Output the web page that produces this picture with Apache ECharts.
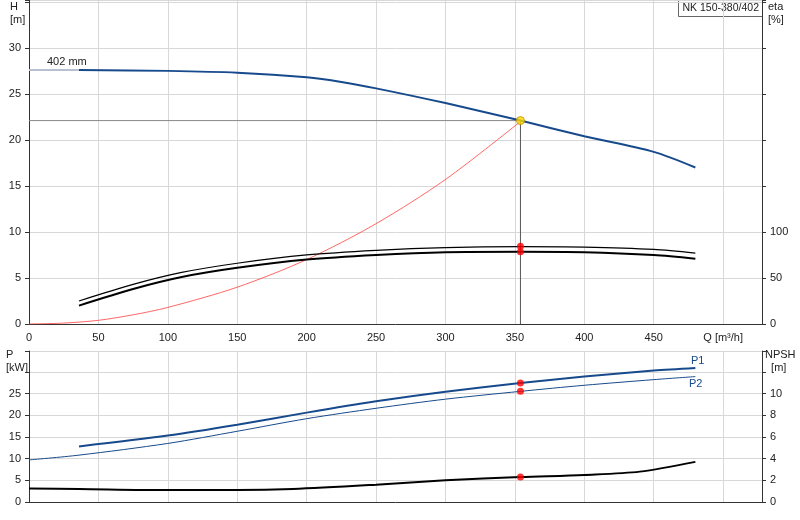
<!DOCTYPE html>
<html><head><meta charset="utf-8">
<script src="https://cdn.jsdelivr.net/npm/echarts@6/dist/echarts.min.js"></script>
<style>html,body{margin:0;background:#fff}#c{width:800px;height:520px}</style>
</head><body><div id="c"></div>
<script>
const hHead = [[0,27.6],[36,27.6]];
const hCurve = [[36,27.6],[100,27.5],[150,27.3],[200,26.8],[225,26.3],[250,25.6],[300,24.0],[354,22.1],[400,20.4],[450,18.7],[480,17.0]];
const etaUpper = [[36,25],[75,43],[110,56],[150,66],[200,75],[250,80],[300,83],[354,84],[400,83.5],[450,81],[480,77]];
const etaLower = [[36,20],[75,38],[110,51],[150,61],[200,70],[250,75],[300,78],[354,78.5],[400,78],[450,75],[480,71]];
const system = [[0,0],[25,0.1],[50,0.4],[75,1.0],[100,1.8],[150,4.0],[200,7.0],[250,10.9],[300,15.7],[354,22.0]];
const p1 = [[36,12.8],[100,15.3],[150,17.8],[200,20.6],[250,23.2],[300,25.4],[354,27.4],[400,28.9],[450,30.3],[480,30.9]];
const p2 = [[0,9.7],[36,10.8],[100,13.5],[150,16.3],[200,19.2],[250,21.6],[300,23.7],[354,25.5],[400,26.9],[450,28.2],[480,28.9]];
const npsh = [[0,1.25],[36,1.2],[100,1.1],[150,1.1],[190,1.2],[250,1.6],[300,2.0],[354,2.3],[400,2.5],[440,2.8],[480,3.7]];
const duty = {q:354, h:22.1, etaU:84.5, etaL:78.5, p1:27.4, p2:25.5, npsh:2.3};
const xTicks = [0,50,100,150,200,250,300,350,400,450];

const grey = '#d8d8d8', ax = {lineStyle:{color:'#333'}};
const lbl = {color:'#222', fontSize:11, fontFamily:'Liberation Sans'};
const line = (x,y,data,color,w,extra) => Object.assign({type:'line',xAxisIndex:x,yAxisIndex:y,data,symbol:'none',smooth:0.3,lineStyle:{color,width:w},silent:true},extra||{});
const dot = (x,y,val) => ({type:'scatter',xAxisIndex:x,yAxisIndex:y,data:[[duty.q,val]],symbolSize:7,itemStyle:{color:'#f00'},z:5});

const chart = echarts.init(document.getElementById('c'));
chart.setOption({
  animation:false,
  grid:[{left:29,right:38,top:0,height:324},{left:29,right:38,top:351,height:151}],
  xAxis:[
    {gridIndex:0,type:'value',min:0,max:528,interval:50,axisLine:ax,axisTick:{show:false},
     splitLine:{lineStyle:{color:grey}},
     axisLabel:Object.assign({},lbl,{formatter:v=>v===500?'Q [m³/h]':(xTicks.includes(v)?String(v):''),showMaxLabel:false})},
    {gridIndex:1,type:'value',min:0,max:528,interval:50,axisLine:ax,axisTick:{show:false},axisLabel:{show:false},
     splitLine:{lineStyle:{color:grey}}}
  ],
  yAxis:[
    {gridIndex:0,type:'value',min:0,max:35.2,interval:5,axisLine:{show:true,lineStyle:{color:'#333'}},axisTick:{show:true,inside:false,length:4},
     splitLine:{lineStyle:{color:grey}},axisLabel:Object.assign({},lbl,{formatter:v=>v<=30?String(v):''})},
    {gridIndex:0,type:'value',position:'right',min:0,max:352,interval:50,axisLine:{show:true,lineStyle:{color:'#333'}},axisTick:{show:true,length:4},
     splitLine:{show:false},axisLabel:Object.assign({},lbl,{formatter:v=>v<=100?String(v):''})},
    {gridIndex:1,type:'value',min:0,max:34.8,interval:5,axisLine:{show:true,lineStyle:{color:'#333'}},axisTick:{show:true,length:4},
     splitLine:{lineStyle:{color:grey}},axisLabel:Object.assign({},lbl,{formatter:v=>v<=25?String(v):''})},
    {gridIndex:1,type:'value',position:'right',min:0,max:13.92,interval:2,axisLine:{show:true,lineStyle:{color:'#333'}},axisTick:{show:true,length:4},
     splitLine:{show:false},axisLabel:Object.assign({},lbl,{formatter:v=>v<=10?String(v):''})}
  ],
  graphic:[
    {type:'text',left:10,top:0,style:{text:'H\n[m]',fill:'#222',font:'11px Liberation Sans',align:'center',lineHeight:13}},
    {type:'text',left:768,top:0,style:{text:'eta\n[%]',fill:'#222',font:'11px Liberation Sans',lineHeight:13}},
    {type:'text',left:6,top:348,style:{text:'P\n[kW]',fill:'#222',font:'11px Liberation Sans',lineHeight:13}},
    {type:'text',left:765,top:348,style:{text:'NPSH\n  [m]',fill:'#222',font:'11px Liberation Sans',lineHeight:13}},
    {type:'text',left:47,top:56,style:{text:'402 mm',fill:'#222',font:'11px Liberation Sans'}},
    {type:'text',left:691,top:355,style:{text:'P1',fill:'#174a8c',font:'11px Liberation Sans'}},
    {type:'text',left:689,top:378,style:{text:'P2',fill:'#174a8c',font:'11px Liberation Sans'}},
    {type:'group',left:678,top:0,children:[
      {type:'rect',shape:{x:0,y:0,width:84,height:16},style:{fill:'#fff',stroke:'#666',lineWidth:1}},
      {type:'text',x:4,y:2,style:{text:'NK 150-380/402',fill:'#222',font:'10.5px Liberation Sans'}}]}
  ],
  series:[
    line(0,0,hHead,'#b8bfd0',2,{smooth:false}),
    line(0,0,[[0,duty.h],[duty.q,duty.h]],'#888',1,{smooth:false}),
    line(0,0,[[duty.q,0],[duty.q,duty.h]],'#555',1,{smooth:false}),
    line(0,0,system,'#ff4040',0.8),
    line(0,0,hCurve,'#174a8c',2),
    line(0,1,etaUpper,'#000',1.2),
    line(0,1,etaLower,'#000',2),
    {type:'scatter',xAxisIndex:0,yAxisIndex:0,data:[[duty.q,duty.h]],symbolSize:8,itemStyle:{color:'#ffd700',borderColor:'#c09000',borderWidth:1},z:6},
    dot(0,1,duty.etaU), dot(0,1,duty.etaL),
    line(1,2,p1,'#174a8c',2),
    line(1,2,p2,'#174a8c',1),
    line(1,3,npsh,'#000',2),
    dot(1,2,duty.p1), dot(1,2,duty.p2), dot(1,3,duty.npsh)
  ]
});
</script></body></html>
